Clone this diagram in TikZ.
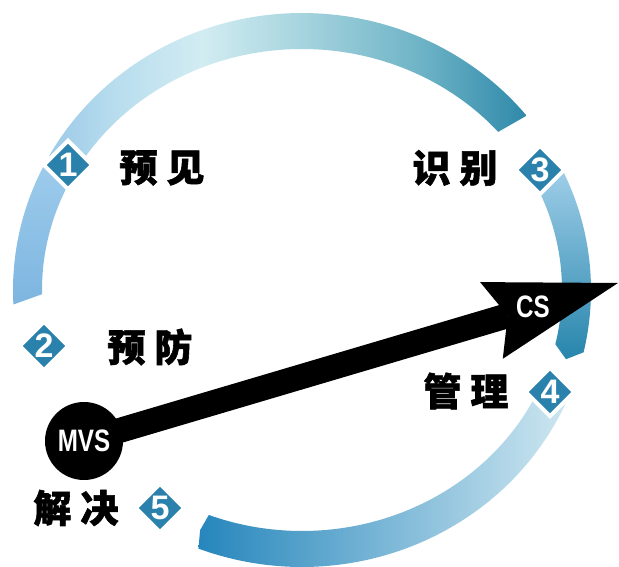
\documentclass[tikz,border=0pt]{standalone}
\usepackage{fontspec}
\setmainfont{Liberation Sans}
\newfontfamily\cjk{Noto Sans CJK SC}[BoldFeatures={FakeBold=1.5}]
\newfontfamily\condfont{Liberation Sans}[FakeStretch=0.78]
\usetikzlibrary{shapes.geometric,calc}
\definecolor{diacol}{HTML}{2A82AC}
\definecolor{tA}{HTML}{9CCAE8}
\definecolor{tB}{HTML}{B8DDEE}
\definecolor{tC}{HTML}{D2ECF2}
\definecolor{tD}{HTML}{A8D5DF}
\definecolor{tE}{HTML}{6DB3C6}
\definecolor{tF}{HTML}{2F89AA}
\definecolor{lA}{HTML}{9ECCEC}
\definecolor{lB}{HTML}{7DB5E0}
\definecolor{rA}{HTML}{A2D0EA}
\definecolor{rB}{HTML}{5CAAD0}
\definecolor{rC}{HTML}{2785AC}
\definecolor{bA}{HTML}{2686BC}
\definecolor{bB}{HTML}{6CB4D6}
\definecolor{bC}{HTML}{CDE6F0}
\pgfdeclarehorizontalshading{topring}{100bp}{color(0bp)=(tA); color(25bp)=(tA); color(32bp)=(tB); color(41bp)=(tC); color(51bp)=(tD); color(64bp)=(tE); color(75bp)=(tF); color(100bp)=(tF)}
\newcommand{\mylabel}[2]{#1\hspace{9pt}#2}
\begin{document}
\begin{tikzpicture}[x=1pt,y=1pt,
  dia/.style={shape=diamond, aspect=1, fill=diacol, draw=white, line width=4pt,
    minimum width=50pt, minimum height=50pt, inner sep=0pt, text=white,
    font=\bfseries\fontsize{34}{34}\selectfont},
  lab/.style={font=\cjk\bfseries\fontsize{38}{38}\selectfont, inner sep=0pt, text=black},
  wtext/.style={text=white, inner sep=0pt, font=\condfont\bfseries\fontsize{31}{31}\selectfont}]
\useasboundingbox (0,0) rectangle (619,567);
% ring segments
\shade[shading=topring] plot[domain=39:151, samples=80] ({302+289*cos(\x)},{277+277*sin(\x)})
  -- plot[domain=151:41, samples=80] ({302+260*cos(\x)},{277+241*sin(\x)}) -- cycle;
\shade[top color=lA, bottom color=lB] plot[domain=152:183, samples=30] ({302+289*cos(\x)},{277+277*sin(\x)})
  -- plot[domain=181:152, samples=30] ({302+260*cos(\x)},{277+241*sin(\x)}) -- cycle;
\shade[top color=rA, middle color=rB, bottom color=rC]
  plot[domain=27:-13, samples=40] ({302+289*cos(\x)},{277+277*sin(\x)})
  -- ({302+274*cos(-15.5)},{277+259*sin(-15.5)})
  -- plot[domain=-13:27, samples=40] ({302+260*cos(\x)},{277+241*sin(\x)}) -- cycle;
\shade[left color=bA, middle color=bB, right color=bC]
  plot[domain=-24:-111, samples=80] ({302+289*cos(\x)},{277+277*sin(\x)})
  -- ({302+272*cos(-112)},{277+259*sin(-112)})
  -- plot[domain=-111:-24, samples=80] ({302+260*cos(\x)},{277+241*sin(\x)}) -- cycle;
% MVS and arrow
\node[circle, fill=black, minimum size=78pt, inner sep=0pt] (mvs) at (84,126) {};
\coordinate (tip) at (618,284);
\coordinate (back) at ($(tip)!132pt!(mvs.center)$);
\coordinate (c1) at ($(back)!40pt!90:(tip)$);
\coordinate (c2) at ($(back)!40pt!-90:(tip)$);
\coordinate (notch) at ($(tip)!115pt!(mvs.center)$);
\draw[line width=25pt, shorten <=-4pt] (mvs) -- (notch);
\fill[black] (tip) -- (c1) -- (notch) -- (c2) -- cycle;
\node[wtext] (mvstext) at (mvs.center) {MVS};
\node[wtext] (cs) at (533,260) {CS};
% diamonds
\node[dia] (d1) at (68,402) {1};
\node[dia] (d2) at (44,221) {2};
\node[dia] (d3) at (540,397) {3};
\node[dia] (d4) at (550,175) {4};
\node[dia] (d5) at (160,59) {5};
% labels
\node[lab] (l1) at (162,399) {\mylabel{预}{见}};
\node[lab] (l2) at (150,220) {\mylabel{预}{防}};
\node[lab] (l3) at (455,399) {\mylabel{识}{别}};
\node[lab] (l4) at (466,176) {\mylabel{管}{理}};
\node[lab] (l5) at (76,59) {\mylabel{解}{决}};
\end{tikzpicture}
\end{document}
